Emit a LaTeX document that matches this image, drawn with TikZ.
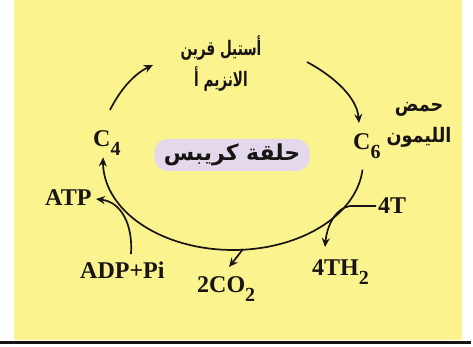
\documentclass[tikz,border=0pt]{standalone}
\usepackage{fontspec}
\setmainfont{Liberation Serif}
\newfontfamily\arabicfont[Script=Arabic]{DejaVu Sans}
\TeXXeTstate=1
\usetikzlibrary{arrows.meta}
\definecolor{bgyellow}{RGB}{250,243,142}
\definecolor{lav}{RGB}{228,217,236}
\definecolor{ink}{RGB}{25,20,20}
\tikzset{
  lbl/.style={inner sep=0pt, text=ink, font=\bfseries\fontsize{24}{24}\selectfont, anchor=base west},
  artxt/.style={inner sep=0pt, text=ink, align=center, font=\arabicfont\bfseries\fontsize{20}{31}\selectfont},
  conn/.style={draw=ink, line width=1.7pt, -{Stealth[length=9pt,width=8pt]}},
}
\newcommand{\subs}[1]{\raisebox{-9pt}{\fontsize{20}{20}\selectfont #1}}
\newcommand{\narrow}[1]{\scalebox{0.68}[1]{#1}}
\newcommand{\narrowb}[1]{\scalebox{0.88}[1]{#1}}
\begin{document}
\begin{tikzpicture}[x=1pt,y=-1pt]
\useasboundingbox (0,0) rectangle (473,347);
\fill[white] (0,0) rectangle (473,347);
\fill[bgyellow] (14,0) rectangle (462,340);
\fill[ink] (0,341) rectangle (471,344);

% central label
\node[fill=lav, rounded corners=13pt, minimum width=155pt, minimum height=32pt, inner sep=0pt,
      text=ink, font=\arabicfont\bfseries\fontsize{22}{24}\selectfont] (box) at (232,155) {\beginR حلقة كريبس\endR};

% arabic labels
\node[artxt] (acetyl) at (221,64) {\narrow{\beginR أستيل قرين\endR}\\\narrow{\beginR الانزيم أ\endR}};
\node[artxt] (citric) at (419,125) {\narrowb{\beginR حمض\endR}\\\narrowb{\beginR الليمون\endR}};

% latin labels
\node[lbl] (c4) at (93,147) {C\subs{4}};
\node[lbl] (c6) at (353,150) {C\subs{6}};
\node[lbl] (atp) at (45,205) {ATP};
\node[lbl] (adp) at (80,278) {ADP+Pi};
\node[lbl] (co2) at (197,292) {2CO\subs{2}};
\node[lbl] (th2) at (312,275) {4TH\subs{2}};
\node[lbl] (t4) at (378,213) {4T};

% coordinates
\coordinate (ulS) at (110,110);
\coordinate (ulE) at (153,65);
\coordinate (urS) at (307,62);
\coordinate (urE) at (359,123);
\coordinate (adpT) at (131,254);
\coordinate (atpTip) at (96,199);
\coordinate (t4S) at (376,206);
\coordinate (t4K) at (350,206);
\coordinate (th2Tip) at (325,247);
\coordinate (co2S) at (243,249);
\coordinate (co2Tip) at (229,267);

% connectors
\draw[conn] (ulS) .. controls (120,90) and (134,74) .. (ulE);
\draw[conn] (urS) .. controls (335,77) and (357,98) .. (urE);
\draw[conn] plot[domain=5:183, samples=90] ({233+130*cos(\x)},{162+88*sin(\x)});
\draw[conn] (adpT) .. controls (133,224) and (121,202) .. (atpTip);
\draw[conn] (t4S) -- (t4K) .. controls (336,208) and (327,225) .. (th2Tip);
\draw[conn] (co2S) .. controls (238,256) .. (co2Tip);
\end{tikzpicture}
\end{document}
